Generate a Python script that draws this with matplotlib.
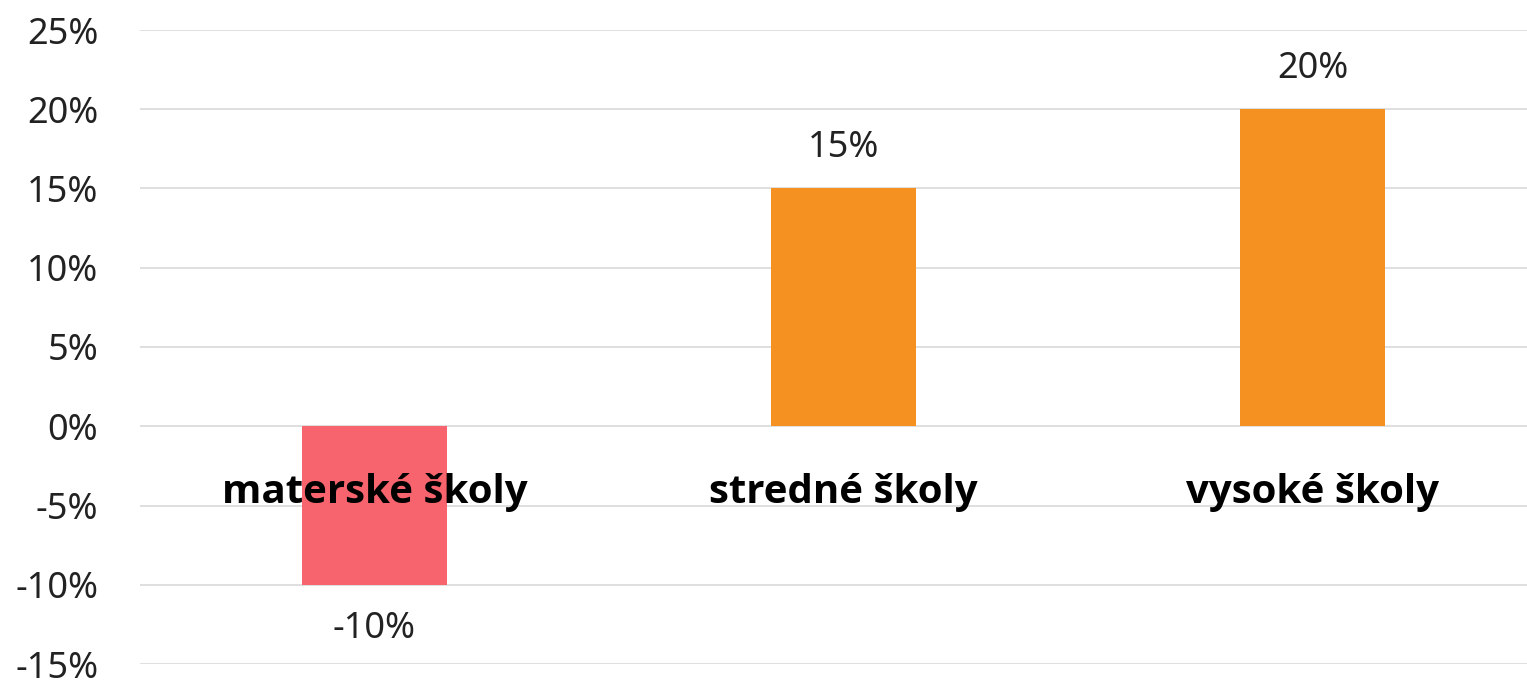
import matplotlib

matplotlib.use("Agg")
import matplotlib.pyplot as plt
from matplotlib.ticker import FuncFormatter

# data
categories = ["materské školy", "stredné školy", "vysoké školy"]
values = [-10, 15, 20]
bar_colors = ["#F7646E", "#F59120", "#F59120"]
y_ticks = [-15, -10, -5, 0, 5, 10, 15, 20, 25]

plt.rcParams["font.family"] = ["Noto Sans", "DejaVu Sans"]

fig = plt.figure(figsize=(15.27, 6.81), dpi=100)
ax = fig.add_axes([140 / 1527, 17 / 681, 1407 / 1527, 634 / 681])

x = list(range(len(categories)))
ax.bar(x, values, width=0.31, color=bar_colors, zorder=2)

ax.set_xlim(-0.5, len(categories) - 0.5)
ax.set_ylim(-15, 25)
ax.set_yticks(y_ticks)
ax.yaxis.set_major_formatter(FuncFormatter(lambda v, _: f"{v:.0f}%"))
ax.tick_params(axis="y", length=0, pad=30, labelsize=26, labelcolor="#222222")
ax.set_xticks([])
ax.grid(axis="y", color="#d9d9d9", lw=1.2, zorder=0)
for s in ax.spines.values():
    s.set_visible(False)

# value labels
for xi, v in zip(x, values):
    off = 29 if v >= 0 else -32
    ax.annotate(f"{v}%", (xi, v), xytext=(0, off), textcoords="offset points",
                ha="center", va="center", fontsize=26, color="#222222")

# category labels inside the plot
for xi, name in zip(x, categories):
    ax.text(xi, -4.2, name, ha="center", va="center", fontsize=29,
            fontweight="bold", color="black", zorder=3,
            family=["Open Sans", "Liberation Sans", "DejaVu Sans"])

fig.savefig("out.png", dpi=100, facecolor="white")
